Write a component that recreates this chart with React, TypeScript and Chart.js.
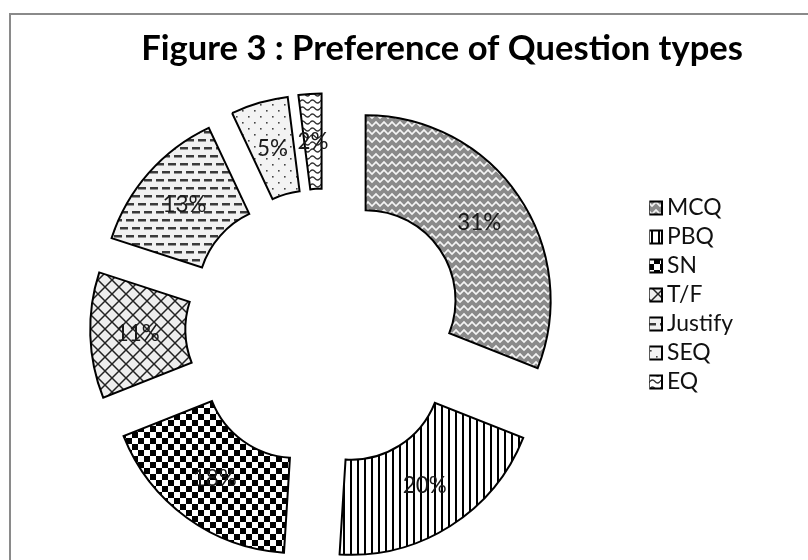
import React, { useEffect, useRef } from 'react';
import { Chart, registerables } from 'chart.js';

Chart.register(...registerables);

// ---------- data ----------
const categories = ['MCQ', 'PBQ', 'SN', 'T/F', 'Justify', 'SEQ', 'EQ'];
const shares = [31, 20, 18, 11, 13, 5, 2];
const chartTitle = 'Figure 3 : Preference of Question types';

// ---------- layout / style constants ----------
const W = 808;
const H = 560;
const FONT = 'Lato, "Open Sans", sans-serif';
const CENTER_X = 323;
const AREA_TOP = 142;
const AREA_BOTTOM = 514;
const EXPLODE = 49.5;
const CUTOUT = '48.6%';
const LEGEND_FIRST_Y = 208;
const LEGEND_STEP = 29;
const LEGEND_BOX_LEFT = 649;
const LEGEND_BOX = 13;
const LEGEND_BOXW = 0.1;
const LEGEND_TEXT_W = 66; // width of "Justify"
const LABEL_TEXT_W = 44; // width of "31%"
const TITLE_WIDTH = 602;
const TITLE_BASELINE = 62;

function measure(text: string, font: string): number {
  const c = document.createElement('canvas').getContext('2d')!;
  c.font = font;
  return c.measureText(text).width;
}

function tile(w: number, h: number, paint: (g: CanvasRenderingContext2D) => void) {
  const c = document.createElement('canvas');
  c.width = w;
  c.height = h;
  paint(c.getContext('2d')!);
  return c;
}

function makePatterns(ctx: CanvasRenderingContext2D): CanvasPattern[] {
  const mk = (c: HTMLCanvasElement) => ctx.createPattern(c, 'repeat')!;
  const weave = tile(8, 8, (g) => {
    g.fillStyle = '#8a8a8a';
    g.fillRect(0, 0, 8, 8);
    g.strokeStyle = '#f4f4f4';
    g.lineWidth = 1.6;
    g.beginPath();
    g.moveTo(-1, 1);
    g.lineTo(4, 6);
    g.lineTo(9, 1);
    g.stroke();
  });
  const vertical = tile(7, 4, (g) => {
    g.fillStyle = '#ffffff';
    g.fillRect(0, 0, 7, 4);
    g.fillStyle = '#000000';
    g.fillRect(0, 0, 2, 4);
  });
  const checker = tile(12, 12, (g) => {
    g.fillStyle = '#ffffff';
    g.fillRect(0, 0, 12, 12);
    g.fillStyle = '#000000';
    g.fillRect(0, 0, 6, 6);
    g.fillRect(6, 6, 6, 6);
  });
  const lattice = tile(14, 14, (g) => {
    g.fillStyle = '#eeeeee';
    g.fillRect(0, 0, 14, 14);
    g.strokeStyle = '#222222';
    g.lineWidth = 1.5;
    g.beginPath();
    g.moveTo(0, 0);
    g.lineTo(14, 14);
    g.moveTo(14, 0);
    g.lineTo(0, 14);
    g.stroke();
  });
  const dashes = tile(12, 16, (g) => {
    g.fillStyle = '#f1f1f1';
    g.fillRect(0, 0, 12, 16);
    g.fillStyle = '#3a3a3a';
    g.fillRect(0, 3, 8, 2.5);
    g.fillRect(6, 11, 6, 2.5);
    g.fillRect(0, 11, 2, 2.5);
  });
  const dots = tile(12, 12, (g) => {
    g.fillStyle = '#f3f3f3';
    g.fillRect(0, 0, 12, 12);
    g.fillStyle = '#444444';
    g.fillRect(2, 2, 1.6, 1.6);
    g.fillRect(8, 8, 1.6, 1.6);
  });
  const wave = tile(10, 7, (g) => {
    g.fillStyle = '#ffffff';
    g.fillRect(0, 0, 10, 7);
    g.strokeStyle = '#333333';
    g.lineWidth = 1.3;
    g.beginPath();
    g.moveTo(0, 3.5);
    g.quadraticCurveTo(2.5, 0.5, 5, 3.5);
    g.quadraticCurveTo(7.5, 6.5, 10, 3.5);
    g.stroke();
  });
  return [mk(weave), mk(vertical), mk(checker), mk(lattice), mk(dashes), mk(dots), mk(wave)];
}

const explodePlugin = {
  id: 'explodeSlices',
  afterDatasetUpdate(_chart: any, args: any) {
    args.meta.data.forEach((arc: any) => {
      const a = (arc.startAngle + arc.endAngle) / 2;
      arc.x += Math.cos(a) * EXPLODE;
      arc.y += Math.sin(a) * EXPLODE;
    });
  },
};

export default function App() {
  const ref = useRef<HTMLCanvasElement>(null);

  useEffect(() => {
    const canvas = ref.current!;
    const ctx2d = canvas.getContext('2d')!;
    const fills = makePatterns(ctx2d);

    const legendFs = (100 * LEGEND_TEXT_W) / measure('Justify', `100px ${FONT}`);
    const labelFs = (100 * LABEL_TEXT_W) / measure('31%', `100px ${FONT}`);
    const titleFs = (100 * TITLE_WIDTH) / measure(chartTitle, `bold 100px ${FONT}`);

    const maxText = Math.max(...categories.map((c) => measure(c, `${legendFs}px ${FONT}`)));
    const pad = LEGEND_STEP - legendFs;
    const legendLeft = LEGEND_BOX_LEFT + LEGEND_BOX / 2 - LEGEND_BOXW / 2 - pad;
    const legendW = pad + (LEGEND_BOXW + legendFs / 2 + maxText) + 10;
    const padRight = W - legendLeft - legendW;
    const padLeft = 2 * CENTER_X - legendLeft;

    const titleLH = titleFs * 1.2;
    const titlePadTop = TITLE_BASELINE - 0.37 * titleFs - titleLH / 2;
    const titlePadBottom = AREA_TOP - titlePadTop - titleLH;

    const legendTitleH = LEGEND_FIRST_Y - legendFs / 2 - pad - AREA_TOP;

    const total = shares.reduce((a, b) => a + b, 0);

    const labelPlugin = {
      id: 'sliceLabels',
      afterDatasetsDraw(chart: any) {
        const meta = chart.getDatasetMeta(0);
        const c = chart.ctx;
        c.save();
        c.font = `${labelFs}px ${FONT}`;
        c.fillStyle = '#1a1a1a';
        c.textAlign = 'center';
        c.textBaseline = 'middle';
        meta.data.forEach((arc: any, i: number) => {
          const p = arc.getCenterPoint();
          c.fillText(`${Math.round((shares[i] / total) * 100)}%`, p.x, p.y);
        });
        c.restore();
      },
    };

    const chart = new Chart(canvas, {
      type: 'doughnut',
      data: {
        labels: categories,
        datasets: [
          {
            data: shares,
            backgroundColor: fills,
            borderColor: '#000000',
            borderWidth: 2,
            hoverBorderWidth: 2,
            borderJoinStyle: 'miter',
            hoverOffset: 0,
            offset: 0,
            clip: false,
          } as any,
        ],
      },
      options: {
        responsive: false,
        animation: false,
        devicePixelRatio: 1,
        cutout: CUTOUT,
        events: [],
        layout: {
          padding: { top: 0, left: padLeft, right: padRight, bottom: H - AREA_BOTTOM },
        },
        plugins: {
          tooltip: { enabled: false },
          title: {
            display: true,
            text: chartTitle,
            align: 'end',
            color: '#000000',
            font: { family: FONT, size: titleFs, weight: 'bold' },
            padding: { top: titlePadTop, bottom: titlePadBottom },
          },
          legend: {
            display: true,
            position: 'right',
            align: 'start',
            fullSize: false,
            title: {
              display: true,
              text: '',
              font: { size: 10 },
              padding: { top: 0, bottom: legendTitleH - 12 },
            },
            labels: {
              usePointStyle: true,
              pointStyle: 'rect',
              boxWidth: LEGEND_BOXW,
              boxHeight: LEGEND_BOX,
              padding: pad,
              color: '#111111',
              font: { family: FONT, size: legendFs },
            },
          },
        },
      } as any,
      plugins: [explodePlugin, labelPlugin],
    });

    return () => chart.destroy();
  }, []);

  return (
    <div
      style={{
        position: 'absolute',
        left: 0,
        top: 0,
        width: W,
        height: H,
        overflow: 'hidden',
        background: '#ffffff',
      }}
    >
      <div
        style={{
          position: 'absolute',
          left: 9,
          top: 13,
          width: W,
          height: H,
          borderLeft: '2px solid #8a8a8a',
          borderTop: '2px solid #8a8a8a',
        }}
      />
      <canvas ref={ref} width={W} height={H} style={{ position: 'absolute', left: 0, top: 0 }} />
    </div>
  );
}
